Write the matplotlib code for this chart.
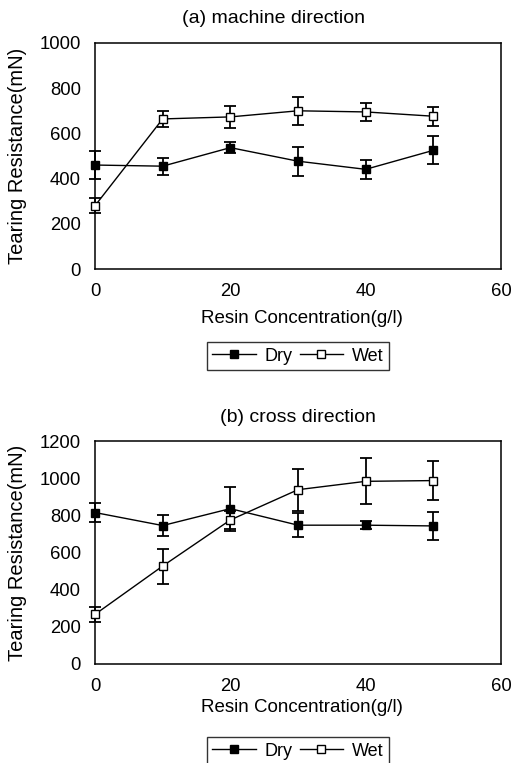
import matplotlib
matplotlib.use("Agg")
import matplotlib.pyplot as plt

plt.rcParams['font.family'] = ['Liberation Sans', 'DejaVu Sans']

conc = [0, 10, 20, 30, 40, 50]

# (a) machine direction
md_dry = [460, 455, 537, 477, 441, 525]
md_dry_err = [60, 38, 25, 65, 43, 62]
md_wet = [280, 664, 673, 700, 695, 676]
md_wet_err = [32, 36, 50, 63, 40, 42]

# (b) cross direction
cd_dry = [815, 745, 836, 747, 747, 743]
cd_dry_err = [52, 55, 118, 64, 20, 77]
cd_wet = [267, 527, 775, 938, 983, 987]
cd_wet_err = [42, 94, 50, 113, 123, 107]

titles = ["(a) machine direction", "(b) cross direction"]
xticks = [0, 20, 40, 60]
yticks_a = [0, 200, 400, 600, 800, 1000]
yticks_b = [0, 200, 400, 600, 800, 1000, 1200]
xlabel = "Resin Concentration(g/l)"
ylabel = "Tearing Resistance(mN)"

W, H = 513, 763
fig = plt.figure(figsize=(W / 100, H / 100), dpi=100)

def px_axes(left, top, right, bottom):
    return fig.add_axes([left / W, 1 - bottom / H, (right - left) / W, (bottom - top) / H])

ax1 = px_axes(95, 43, 501, 269)
ax2 = px_axes(95, 441, 501, 664)

def draw(ax, dry, dry_err, wet, wet_err, yticks, title, title_x, title_y, xlab_y):
    ax.errorbar(conc, dry, yerr=dry_err, color='black', marker='s', markersize=6.2,
                markerfacecolor='black', markeredgecolor='black', lw=1.0,
                elinewidth=1.3, capsize=4.5, capthick=1.3, clip_on=False, zorder=3,
                label='Dry')
    ax.errorbar(conc, wet, yerr=wet_err, color='black', marker='s', markersize=6.2,
                markerfacecolor='white', markeredgecolor='black', lw=1.0,
                elinewidth=1.3, capsize=4.5, capthick=1.3, clip_on=False, zorder=4,
                label='Wet')
    ax.set_xlim(0, 60)
    ax.set_ylim(yticks[0], yticks[-1])
    ax.set_xticks(xticks)
    ax.set_yticks(yticks)
    ax.tick_params(length=0, labelsize=13.3)
    ax.tick_params(axis='y', pad=10)
    ax.tick_params(axis='x', pad=10)
    for s in ax.spines.values():
        s.set_linewidth(1.1)
        s.set_color('black')
    ax.set_title(title, fontsize=14, x=title_x, y=title_y, va='center', ha='center', pad=0)
    ax.set_xlabel(xlabel, fontsize=13.5)
    ax.xaxis.set_label_coords(0.51, xlab_y)
    ax.xaxis.label.set_va('center')
    ax.set_ylabel(ylabel, fontsize=14.5)
    ax.yaxis.set_label_coords(-0.19, 0.5)
    ax.yaxis.label.set_va('center')

draw(ax1, md_dry, md_dry_err, md_wet, md_wet_err, yticks_a, titles[0], 0.44, 1.11, -0.217)
draw(ax2, cd_dry, cd_dry_err, cd_wet, cd_wet_err, yticks_b, titles[1], 0.5, 1.106, -0.197)

for ax, yc in [(ax1, 1 - 356 / H), (ax2, 1 - 751 / H)]:
    h, l = ax.get_legend_handles_labels()
    h = [hh[0] for hh in h]
    leg = fig.legend(h, l, loc='center', bbox_to_anchor=(298 / W, yc), ncol=2,
                     fontsize=13, frameon=True, fancybox=False, edgecolor='black',
                     handlelength=2.4, columnspacing=0.4, handletextpad=0.5,
                     borderpad=0.3, markerscale=0.85)
    leg.get_frame().set_linewidth(1.0)

fig.savefig("out.png", dpi=100)
